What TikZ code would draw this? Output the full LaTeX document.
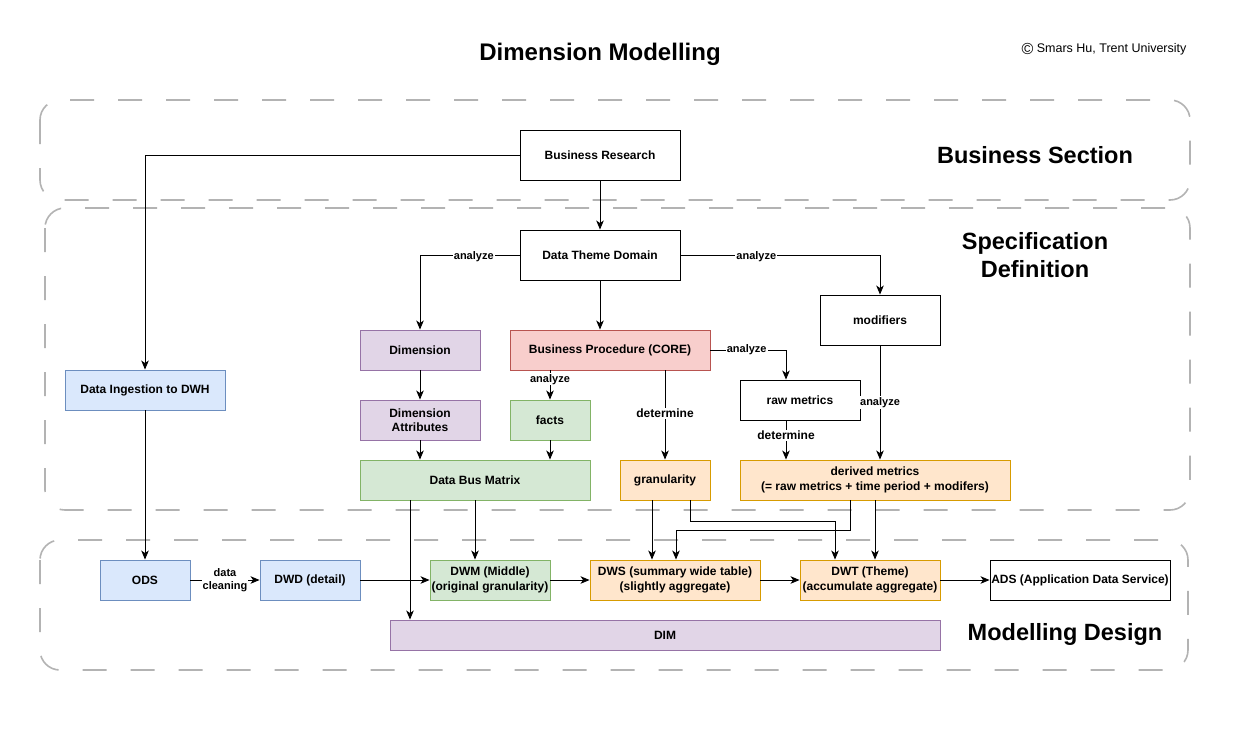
\documentclass[tikz,border=0pt]{standalone}
\usepackage{fontspec}
\setmainfont{Liberation Sans}
\usetikzlibrary{arrows.meta,calc}
\definecolor{bluef}{HTML}{DAE8FC}\definecolor{blued}{HTML}{6C8EBF}
\definecolor{greenf}{HTML}{D5E8D4}\definecolor{greend}{HTML}{82B366}
\definecolor{redf}{HTML}{F8CECC}\definecolor{redd}{HTML}{B85450}
\definecolor{purf}{HTML}{E1D5E7}\definecolor{purd}{HTML}{9673A6}
\definecolor{orf}{HTML}{FFE6CC}\definecolor{ord}{HTML}{D79B00}
\definecolor{contc}{HTML}{B3B3B3}
\tikzset{
  box/.style={draw=black, fill=white, line width=0.9pt, inner sep=0pt, align=center,
    font=\bfseries\fontsize{12}{14.5}\selectfont},
  bluebox/.style={box, draw=blued, fill=bluef},
  greenbox/.style={box, draw=greend, fill=greenf},
  redbox/.style={box, draw=redd, fill=redf},
  purbox/.style={box, draw=purd, fill=purf},
  orbox/.style={box, draw=ord, fill=orf},
  arr/.style={-{Stealth[length=9pt,width=7.5pt,inset=2.5pt]}, line width=0.9pt, black},
  lbl/.style={fill=white, inner sep=1pt, align=center, font=\bfseries\fontsize{11}{13}\selectfont},
  dlbl/.style={lbl, font=\bfseries\fontsize{12}{14}\selectfont},
  cont/.style={draw=contc, line width=1.6pt, dash pattern=on 24pt off 24pt, rounded corners=20pt},
  sect/.style={font=\bfseries\fontsize{23.5}{28}\selectfont, align=center},
}
\begin{document}
\begin{tikzpicture}[x=1pt,y=-1pt]
\useasboundingbox (0,0) rectangle (1240,740);
\fill[white] (0,0) rectangle (1240,740);
% containers
\draw[cont] (40,100) rectangle (1190,200);
\draw[cont] (45,208) rectangle (1190,510);
\draw[cont] (40,540) rectangle (1188,670);
% titles
\node[font=\bfseries\fontsize{24}{28}\selectfont] (title) at (600,54) {Dimension Modelling};
\node[font=\fontsize{12.5}{14}\selectfont] (copy) at (1104,49) {\raisebox{-1.6pt}{\fontsize{16}{16}\selectfont\textcopyright}\ Smars Hu, Trent University};
\node[sect] (s1) at (1035,155) {Business Section};
\node[sect] (s2) at (1035,255) {Specification\\Definition};
\node[sect] (s3) at (1065,634) {Modelling Design};
% nodes
\node[box, minimum width=160pt, minimum height=50pt] (br) at (600,155) {Business Research};
\node[box, minimum width=160pt, minimum height=50pt] (dtd) at (600,255) {Data Theme Domain};
\node[purbox, minimum width=120pt, minimum height=40pt] (dim) at (420,350) {Dimension};
\node[redbox, minimum width=200pt, minimum height=40pt] (bp) at (610,350) {Business Procedure (CORE)};
\node[box, minimum width=120pt, minimum height=50pt] (mod) at (880,320) {modifiers};
\node[bluebox, minimum width=160pt, minimum height=40pt] (ing) at (145,390) {Data Ingestion to DWH};
\node[box, minimum width=120pt, minimum height=40pt] (raw) at (800,400) {raw metrics};
\node[purbox, minimum width=120pt, minimum height=40pt] (da) at (420,420) {Dimension\\Attributes};
\node[greenbox, minimum width=80pt, minimum height=40pt] (facts) at (550,420) {facts};
\node[greenbox, minimum width=230pt, minimum height=40pt] (dbm) at (475,480) {Data Bus Matrix};
\node[orbox, minimum width=90pt, minimum height=40pt] (gran) at (665,480) {granularity};
\node[orbox, minimum width=270pt, minimum height=40pt] (der) at (875,480) {derived metrics\\(= raw metrics + time period + modifers)};
\node[bluebox, minimum width=90pt, minimum height=40pt] (ods) at (145,580) {ODS};
\node[bluebox, minimum width=100pt, minimum height=40pt] (dwd) at (310,580) {DWD (detail)};
\node[greenbox, minimum width=120pt, minimum height=40pt] (dwm) at (490,580) {DWM (Middle)\\(original granularity)};
\node[orbox, minimum width=170pt, minimum height=40pt] (dws) at (675,580) {DWS (summary wide table)\\(slightly aggregate)};
\node[orbox, minimum width=140pt, minimum height=40pt] (dwt) at (870,580) {DWT (Theme)\\(accumulate aggregate)};
\node[box, minimum width=180pt, minimum height=40pt] (ads) at (1080,580) {ADS (Application Data Service)};
\node[purbox, minimum width=550pt, minimum height=30pt] (dimn) at (665,635) {DIM};
% edges
\draw[arr] (br) -- (dtd);
\draw[arr] (br.west) -| (ing.north);
\draw[arr] (ing) -- (ods);
\draw[arr] (dtd.west) -| node[lbl, pos=0.23, yshift=-2pt] (l1) {analyze} (dim.north);
\draw[arr] (dtd.east) -| node[lbl, pos=0.19, yshift=-2pt] (l2) {analyze} (mod.north);
\draw[arr] (dtd.south) -- (dtd.south |- bp.north);
\draw[arr] (dim) -- (da);
\draw[arr] (da.south) -- (da.south |- dbm.north);
\draw[arr] (facts.south) -- (facts.south |- dbm.north);
\draw[arr] (bp.south -| facts.north) -- node[lbl, pos=0.3] (l3) {analyze} (facts.north);
\draw[arr] (bp.south -| gran.north) -- node[dlbl, pos=0.48] (l4) {determine} (gran.north);
\draw[arr] (bp.east) -| node[lbl, pos=0.24] (l5) {analyze} ($(raw.north)+(-14,0)$);
\draw[arr] ($(raw.south)+(-14,0)$) coordinate (r1) -- node[dlbl, pos=0.38] (l6) {determine} (r1 |- der.north);
\draw[arr] (mod.south) -- node[lbl, pos=0.5] (l7) {analyze} (mod.south |- der.north);
\draw[arr] ($(dbm.south)+(-65,0)$) coordinate (d1) -- (d1 |- dimn.north);
\draw[arr] (dbm.south) -- (dbm.south |- dwm.north);
\draw[arr] ($(gran.south)+(-13,0)$) coordinate (g1) -- (g1 |- dws.north);
\draw[arr] ($(gran.south)+(25,0)$) -- ++(0,21) -| ($(dwt.north)+(-35,0)$);
\draw[arr] ($(der.south)+(-25,0)$) -- ++(0,30) -| ($(dws.north)+(1,0)$);
\draw[arr] (der.south) -- (der.south |- dwt.north);
\draw[arr] (ods) -- node[lbl] (l8) {data\\cleaning} (dwd);
\draw[arr] (dwd) -- (dwm);
\draw[arr] (dwm) -- (dws);
\draw[arr] (dws) -- (dwt);
\draw[arr] (dwt) -- (ads);
\end{tikzpicture}
\end{document}
